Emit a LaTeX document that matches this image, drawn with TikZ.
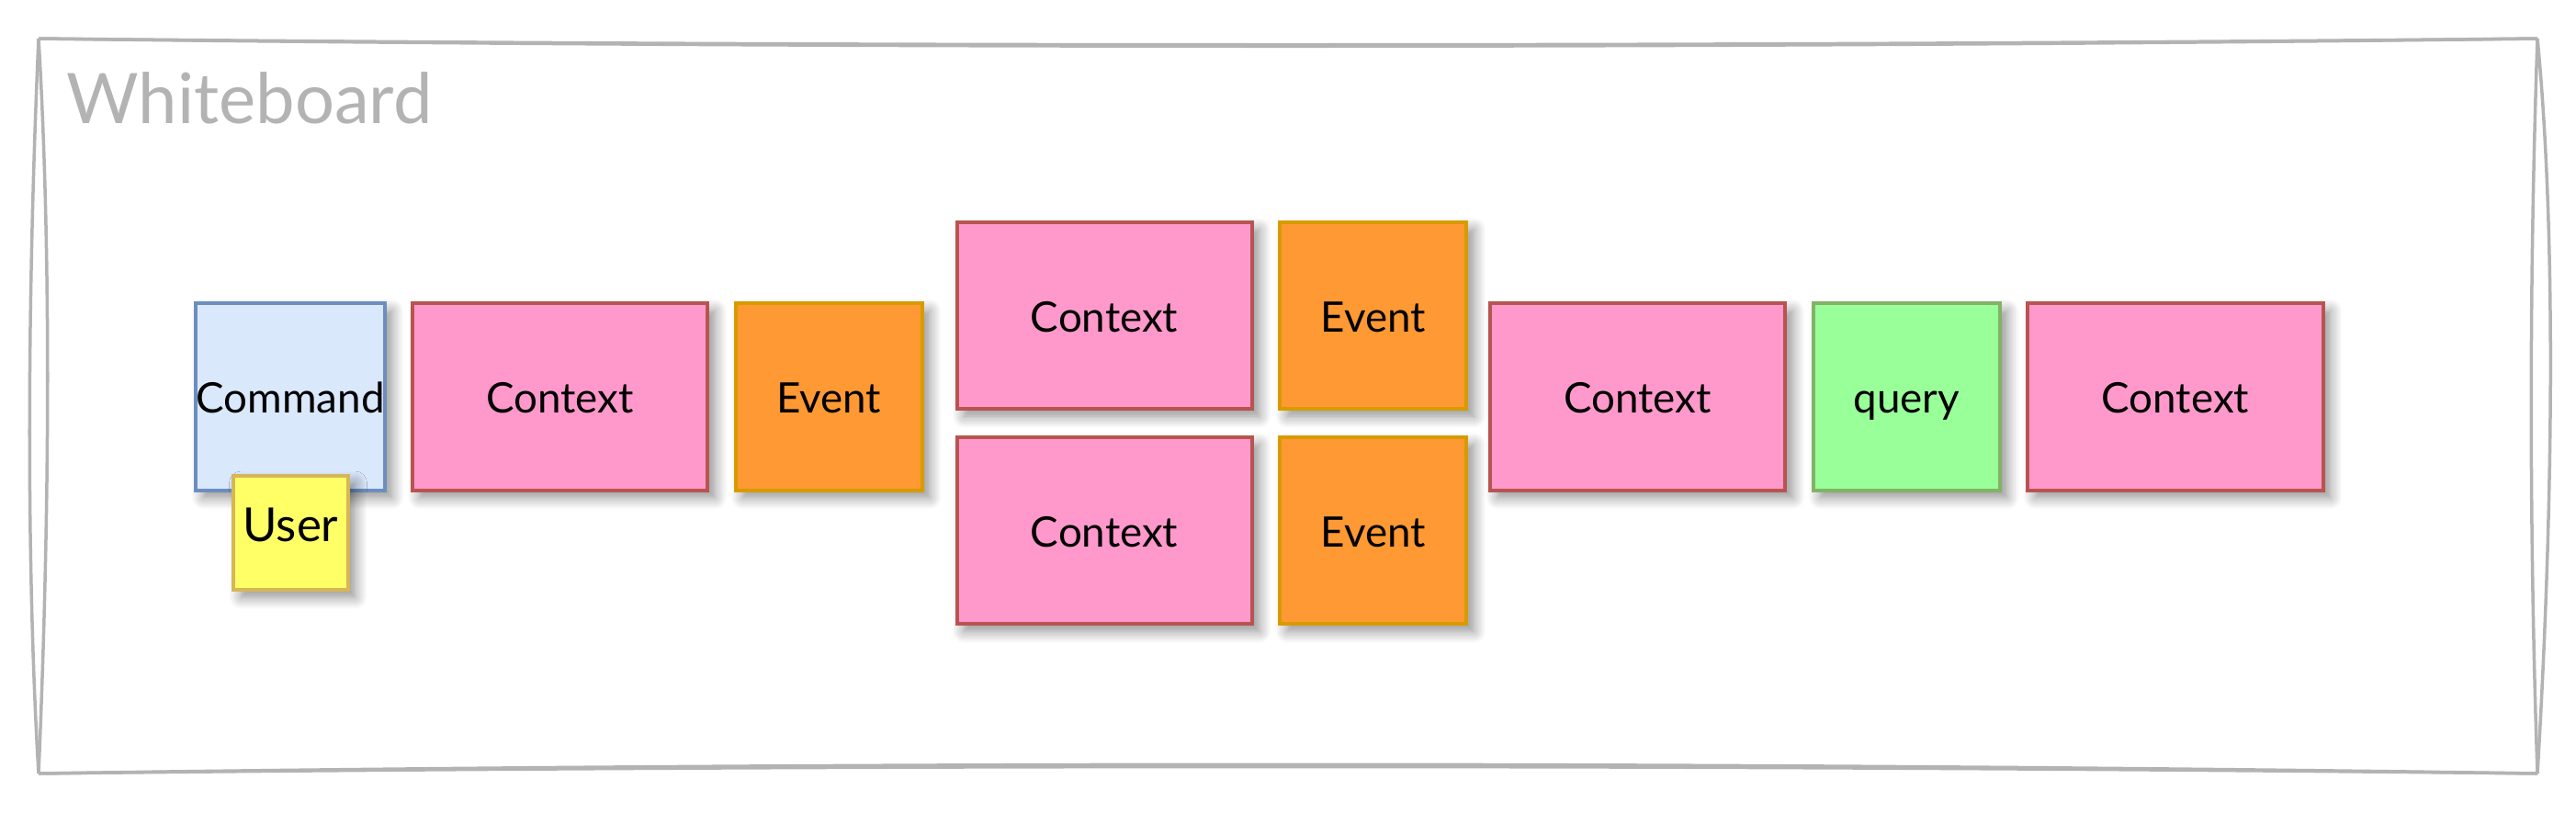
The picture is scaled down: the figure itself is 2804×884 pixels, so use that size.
\documentclass[tikz,border=0pt]{standalone}
\usepackage{fontspec}
\setmainfont{Lato}
\usetikzlibrary{positioning,shadows.blur}
\definecolor{cmdFill}{HTML}{DAE8FC}
\definecolor{cmdLine}{HTML}{6C8EBF}
\definecolor{ctxFill}{HTML}{FF99CC}
\definecolor{ctxLine}{HTML}{B85450}
\definecolor{evtFill}{HTML}{FF9933}
\definecolor{evtLine}{HTML}{D79B00}
\definecolor{qryFill}{HTML}{99FF99}
\definecolor{qryLine}{HTML}{82B366}
\definecolor{usrFill}{HTML}{FFFF66}
\definecolor{usrLine}{HTML}{D6B656}
\definecolor{boardLine}{HTML}{B3B3B3}

\begin{document}
\begin{tikzpicture}[
    x=0.01cm, y=-0.01cm,
    sticky/.style={ draw,
                    line width=0.04cm,
                    align=center,
                    inner sep=0,
                    text height=11pt,
                    text depth=1pt,
                    font=\fontsize{13}{16}\selectfont,
                    blur shadow={shadow xshift=0.08cm, shadow yshift=-0.08cm, shadow blur radius=0.13cm, shadow blur steps=10, shadow opacity=45}},
    cmd/.style={sticky, fill=cmdFill, draw=cmdLine, minimum width=2.03cm, minimum height=2.03cm},
    ctx/.style={sticky, fill=ctxFill, draw=ctxLine, minimum width=3.21cm, minimum height=2.03cm},
    evt/.style={sticky, fill=evtFill, draw=evtLine, minimum width=2.03cm, minimum height=2.03cm},
    qry/.style={sticky, fill=qryFill, draw=qryLine, minimum width=2.03cm, minimum height=2.03cm},
    usr/.style={sticky, fill=usrFill, draw=usrLine, minimum width=1.24cm, minimum height=1.24cm,
                font=\fontsize{14.5}{17}\selectfont, text depth=5.5pt},
    board/.style={draw=boardLine, line width=0.035cm}]

    \useasboundingbox (0, 0) rectangle (2804, 884);

    % the frame
    \coordinate (tl) at (42, 42);
    \coordinate (tr) at (2762, 42);
    \coordinate (br) at (2762, 842);
    \coordinate (bl) at (42, 842);
    \draw[board] (tl) .. controls (900, 51) and (1900, 51) .. (tr);
    \draw[board] (tl) .. controls (900, 53) and (1900, 53) .. (tr);
    \draw[board] (tr) .. controls (2753, 300) and (2753, 580) .. (br);
    \draw[board] (tr) .. controls (2781, 240) and (2781, 520) .. (br);
    \draw[board] (br) .. controls (1900, 829) and (900, 829) .. (bl);
    \draw[board] (br) .. controls (1900, 832) and (900, 832) .. (bl);
    \draw[board] (bl) .. controls (29, 620) and (29, 340) .. (tl);
    \draw[board] (bl) .. controls (55, 540) and (55, 260) .. (tl);

    \node[font=\fontsize{21.6}{26}\selectfont, text=boardLine, anchor=west] (title) at (60, 107) {Whiteboard};

    % first row
    \node[cmd] (c1) at (316, 432) {Command};
    \node[ctx, right=0.265cm of c1] (x1) {Context};
    \node[evt, right=0.265cm of x1] (e1) {Event};

    % the fork
    \node[ctx, anchor=south west] (x2) at (1039.5, 447) {Context};
    \node[ctx, below=0.27cm of x2] (x3) {Context};
    \node[evt, right=0.265cm of x2] (e2) {Event};
    \node[evt, right=0.265cm of x3] (e3) {Event};

    % the rest
    \node[ctx, anchor=west] (x4) at (1620, 432) {Context};
    \node[qry, right=0.265cm of x4] (q1) {query};
    \node[ctx, right=0.265cm of q1] (x5) {Context};

    \node[usr, anchor=north] (u1) at (316.5, 516) {User};

\end{tikzpicture}
\end{document}
